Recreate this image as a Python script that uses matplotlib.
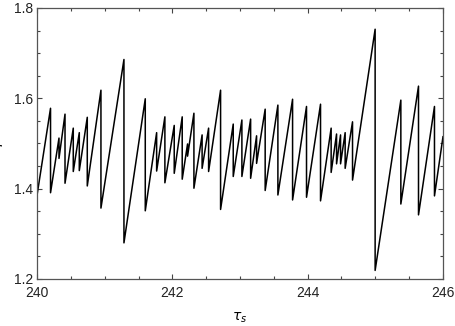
import numpy as np
import matplotlib
matplotlib.use("Agg")
import matplotlib.pyplot as plt
from matplotlib.ticker import MultipleLocator

# sawtooth: each drop is at drop_x, falling from peak_y to trough_y
start_x, start_y = 240.0, 1.56
drop_x = [240.00, 240.20, 240.325, 240.414, 240.536, 240.625, 240.743, 240.945,
          241.285, 241.600, 241.768, 241.890, 242.028, 242.146, 242.225, 242.319,
          242.440, 242.536, 242.713, 242.900, 243.028, 243.157, 243.245, 243.372,
          243.560, 243.777, 243.983, 244.190, 244.347, 244.427, 244.486, 244.554,
          244.663, 244.997, 245.377, 245.638, 245.874]
peak_y = [1.560, 1.578, 1.512, 1.565, 1.534, 1.524, 1.558, 1.618,
          1.686, 1.599, 1.524, 1.559, 1.540, 1.559, 1.499, 1.567,
          1.519, 1.534, 1.618, 1.543, 1.552, 1.554, 1.517, 1.576,
          1.585, 1.598, 1.582, 1.587, 1.534, 1.521, 1.519, 1.524,
          1.548, 1.753, 1.596, 1.627, 1.582]
trough_y = [1.385, 1.391, 1.467, 1.412, 1.438, 1.440, 1.406, 1.357,
            1.280, 1.351, 1.439, 1.413, 1.434, 1.421, 1.472, 1.401,
            1.445, 1.438, 1.354, 1.427, 1.427, 1.423, 1.456, 1.396,
            1.386, 1.375, 1.381, 1.373, 1.436, 1.455, 1.455, 1.445,
            1.419, 1.219, 1.366, 1.342, 1.384]
end_x, end_y = 246.0, 1.515

xs, ys = [], []
for x, p, t in zip(drop_x, peak_y, trough_y):
    xs += [x, x]
    ys += [p, t]
xs.append(end_x)
ys.append(end_y)

plt.rcParams["font.family"] = ["Liberation Sans", "DejaVu Sans"]

fig = plt.figure(figsize=(4.55, 3.26), dpi=100)
ax = fig.add_axes([37/455, 1 - 279/326, 406/455, 271/326])
ax.plot(xs, ys, color="black", lw=1.1)

ax.set_xlim(240, 246)
ax.set_ylim(1.2, 1.8)
ax.xaxis.set_major_locator(MultipleLocator(2))
ax.xaxis.set_minor_locator(MultipleLocator(0.5))
ax.yaxis.set_major_locator(MultipleLocator(0.2))
ax.yaxis.set_minor_locator(MultipleLocator(0.05))
ax.tick_params(which="both", direction="in", top=True, right=True,
               labelsize=10, color="#444444", labelcolor="#222222")
ax.tick_params(axis="x", pad=5)
ax.tick_params(axis="y", pad=3)
ax.tick_params(which="major", length=3.5, width=0.8)
ax.tick_params(which="minor", length=2.5, width=0.8)
for s in ax.spines.values():
    s.set_color("#555555")
    s.set_linewidth(0.9)

ax.set_xlabel(r"$\tau_s$", fontsize=10, labelpad=8)
ax.set_ylabel(r"$\gamma$", fontsize=10)
ax.yaxis.set_label_coords(-0.08, 0.5)

fig.savefig("out.png", dpi=100)
